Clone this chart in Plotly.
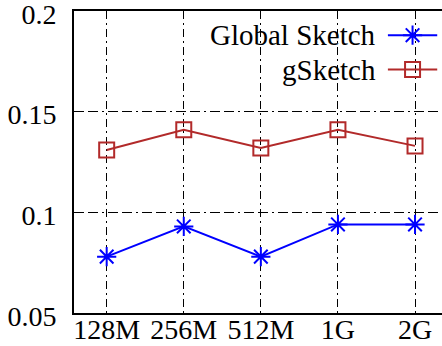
import plotly.graph_objects as go

categories = ["128M", "256M", "512M", "1G", "2G"]
global_sketch = [0.078, 0.093, 0.078, 0.094, 0.094]
gsketch = [0.131, 0.141, 0.132, 0.141, 0.133]
y_ticks = [0.05, 0.1, 0.15, 0.2]
y_ticktext = ["0.05", "0.1", "0.15", "0.2"]
series_names = ["Global Sketch", "gSketch"]

BLUE = "#0000ff"
RED = "#b22a2a"
FONT = "Liberation Serif"

fig = go.Figure()
fig.add_trace(go.Scatter(
    x=categories, y=global_sketch, mode="lines+markers", name=series_names[0],
    line=dict(color=BLUE, width=2),
    marker=dict(symbol="asterisk-open", size=16, color=BLUE, line=dict(color=BLUE, width=2)),
    showlegend=False))
fig.add_trace(go.Scatter(
    x=categories, y=gsketch, mode="lines+markers", name=series_names[1],
    line=dict(color=RED, width=2),
    marker=dict(symbol="square-open", size=15, color=RED, line=dict(color=RED, width=2)),
    showlegend=False))

# gnuplot-style legend (text left, sample right) on an overlay 0..1 axis
leg_y = [0.920, 0.806]
for name, col, sym, yy in [(series_names[0], BLUE, "asterisk-open", leg_y[0]),
                           (series_names[1], RED, "square-open", leg_y[1])]:
    fig.add_trace(go.Scatter(
        x=[0.853, 0.92, 0.987], y=[yy, yy, yy], mode="lines", xaxis="x2", yaxis="y2",
        line=dict(color=col, width=2), showlegend=False, hoverinfo="skip"))
    fig.add_trace(go.Scatter(
        x=[0.92], y=[yy], mode="markers", xaxis="x2", yaxis="y2",
        marker=dict(symbol=sym, size=16 if sym.startswith("aster") else 15,
                    color=col, line=dict(color=col, width=2)),
        showlegend=False, hoverinfo="skip"))
    fig.add_annotation(x=0.826, y=yy, xref="x2", yref="y2", text=name, showarrow=False,
                       xanchor="right", yanchor="middle",
                       font=dict(family=FONT, size=29, color="black"))

fig.update_layout(
    width=442, height=346,
    margin=dict(l=74, r=0, t=11, b=33, autoexpand=False),
    plot_bgcolor="white", paper_bgcolor="white",
    font=dict(family=FONT, size=28, color="black"),
    xaxis=dict(
        type="category", range=[-0.424, 4.35], automargin=False,
        showline=True, linecolor="black", linewidth=2, mirror=True,
        showgrid=True, gridcolor="black", gridwidth=1.3, griddash="8px,4px,2px,4px",
        ticks="", ticklabelstandoff=-10,
        tickfont=dict(family=FONT, size=28, color="black"),
        zeroline=False),
    yaxis=dict(
        range=[0.05, 0.2], tickvals=y_ticks, ticktext=y_ticktext, automargin=False,
        showline=True, linecolor="black", linewidth=2, mirror=False,
        showgrid=True, gridcolor="black", gridwidth=1.3, griddash="10px,4px,10px,4px,2px,4px",
        ticks="", ticklabelstandoff=10, ticklabeloverflow="allow", ticklabelshift=3,
        tickfont=dict(family=FONT, size=28, color="black"),
        zeroline=False),
    xaxis2=dict(range=[0, 1], overlaying="x", visible=False, fixedrange=True),
    yaxis2=dict(range=[0, 1], overlaying="y", visible=False, fixedrange=True),
    showlegend=False,
)

fig.write_html("out.html")
